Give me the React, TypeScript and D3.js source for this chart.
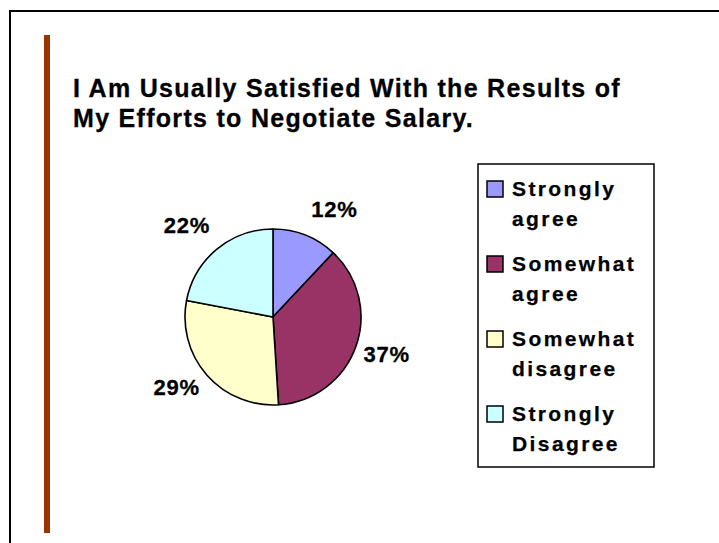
import React from "react";
import * as d3 from "d3";

const categories = ["Strongly agree", "Somewhat agree", "Somewhat disagree", "Strongly Disagree"];
const legendLines = [["Strongly", "agree"], ["Somewhat", "agree"], ["Somewhat", "disagree"], ["Strongly", "Disagree"]];
const values = [12, 37, 29, 22];
const colors = ["#9999FF", "#993366", "#FFFFCC", "#CCFFFF"];
const titleLines = ["I Am Usually Satisfied With the Results of", "My Efforts to Negotiate Salary."];

const W = 719, H = 543;
const cx = 273, cy = 317, r = 88;
const font = "'Liberation Sans', Arial, sans-serif";

export default function App() {
  const pie = d3.pie<number>().sort(null).value((d) => d)(values);
  const arc = d3.arc<d3.PieArcDatum<number>>().innerRadius(0).outerRadius(r);
  const total = d3.sum(values);
  const fs = 22;
  return (
    <svg width={W} height={H} style={{ position: "absolute", left: 0, top: 0, display: "block", background: "#fff" }}>
      <rect x={10} y={11} width={W + 20} height={H + 20} fill="none" stroke="#000" strokeWidth={2} />
      <rect x={44} y={35} width={6} height={498} fill="#993300" />
      {titleLines.map((t, i) => (
        <text key={i} x={73} y={97 + i * 30} fontFamily={font} fontWeight="bold" fontSize={25} letterSpacing={1.3} fill="#000" stroke="#000" strokeWidth={0.3}>{t}</text>
      ))}
      <g transform={`translate(${cx},${cy})`}>
        {pie.map((p, i) => (
          <path key={i} d={arc(p) || ""} fill={colors[i]} stroke="#000" strokeWidth={1.6} strokeLinejoin="round" />
        ))}
        {pie.map((p, i) => {
          const a = (p.startAngle + p.endAngle) / 2;
          const ux = Math.sin(a), uy = -Math.cos(a);
          const x = 91 * ux + Math.sign(ux) * 28;
          const y = 103 * uy + Math.sign(uy) * 7.5 - 5;
          return (
            <text key={"l" + i} x={x} y={y + fs * 0.358} textAnchor="middle" fontFamily={font} fontWeight="bold" fontSize={fs} letterSpacing={0.8} fill="#000" stroke="#000" strokeWidth={0.3}>
              {Math.round((values[i] / total) * 100) + "%"}
            </text>
          );
        })}
      </g>
      <rect x={478} y={164} width={176} height={303} fill="#fff" stroke="#000" strokeWidth={1.5} />
      {categories.map((c, i) => (
        <g key={c}>
          <rect x={487} y={181 + i * 75} width={16} height={16} fill={colors[i]} stroke="#000" strokeWidth={1.5} />
          {legendLines[i].map((ln, j) => (
            <text key={j} x={512} y={196 + i * 75 + j * 30} fontFamily={font} fontWeight="bold" fontSize={21} letterSpacing={2.4} fill="#000" stroke="#000" strokeWidth={0.25}>{ln}</text>
          ))}
        </g>
      ))}
    </svg>
  );
}
